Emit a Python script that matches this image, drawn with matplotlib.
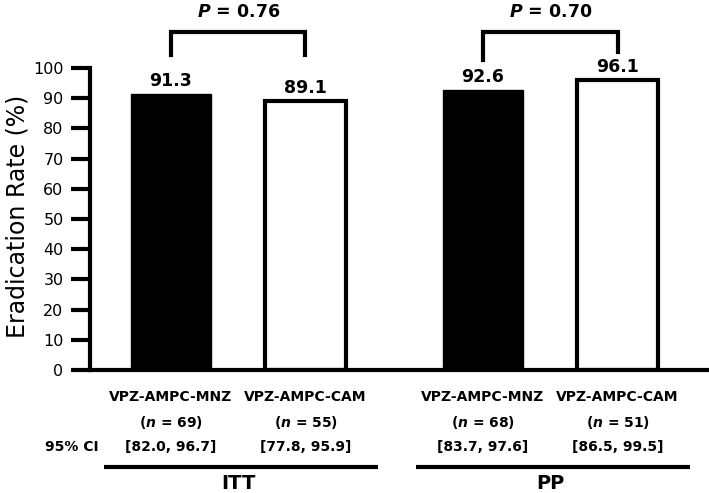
import matplotlib
matplotlib.use("Agg")
import matplotlib.pyplot as plt
import numpy as np

plt.rcParams['font.family'] = ['DejaVu Sans']
plt.rcParams['mathtext.fontset'] = 'custom'
plt.rcParams['mathtext.it'] = 'DejaVu Sans:italic:bold'
plt.rcParams['mathtext.rm'] = 'DejaVu Sans:bold'

# data
groups = ["ITT", "PP"]
regimens = ["VPZ-AMPC-MNZ", "VPZ-AMPC-CAM", "VPZ-AMPC-MNZ", "VPZ-AMPC-CAM"]
rates = [91.3, 89.1, 92.6, 96.1]
n_pat = [69, 55, 68, 51]
ci_lo = [82.0, 77.8, 83.7, 86.5]
ci_hi = [96.7, 95.9, 97.6, 99.5]
p_vals = ["0.76", "0.70"]

fills = ["black", "white", "black", "white"]

group_gap = 1.32
pos = np.array([0, 1, 1 + group_gap, 2 + group_gap])
bw = 0.6

fig = plt.figure(figsize=(7.09, 4.93), dpi=100)
ax = fig.add_axes([90/709, 1 - 370/493, 617/709, 302/493])

for x, r, c in zip(pos, rates, fills):
    lw = 1 if c == "black" else 3
    ax.bar(x, r, bw, color=c, edgecolor="black", linewidth=lw, zorder=2)
    ax.text(x, r + 1.3, "%.1f" % r, ha="center", va="bottom",
            fontsize=12.5, fontweight="bold")

ax.set_xlim(-0.602, 3.985)
ax.set_ylim(0, 100)
ax.set_yticks(np.arange(0, 101, 10))
ax.set_xticks([])
ax.tick_params(axis="y", direction="out", length=14, width=3, labelsize=11.5, pad=5)
for s in ["top", "right"]:
    ax.spines[s].set_visible(False)
ax.spines["left"].set_linewidth(3)
ax.spines["bottom"].set_linewidth(3)

fig.text(18/709, 1 - 216/493, "Eradication Rate (%)", rotation=90,
         ha="center", va="center", fontsize=17)

# significance brackets
bracket_bottoms = [(104.3, 104.3), (102.6, 105.3)]
for g in range(2):
    x1, x2 = pos[2*g], pos[2*g + 1]
    b1, b2 = bracket_bottoms[g]
    ax.plot([x1, x1, x2, x2], [b1, 111.9, 111.9, b2], color="black",
            lw=3, clip_on=False, solid_joinstyle="miter")
    ax.text((x1 + x2) / 2, 118.4, r"$\mathit{P}$ = " + p_vals[g], ha="center",
            va="center", fontsize=12.5, fontweight="bold")

# category text under axis
for i, x in enumerate(pos):
    ax.text(x, -8.9, regimens[i], ha="center", va="center", fontsize=10,
            fontweight="bold", clip_on=False)
    ax.text(x, -17.5, r"($\mathit{n}$ = %d)" % n_pat[i], ha="center",
            va="center", fontsize=10, fontweight="bold", clip_on=False)
    ax.text(x, -25.5, "[%.1f, %.1f]" % (ci_lo[i], ci_hi[i]), ha="center",
            va="center", fontsize=10, fontweight="bold", clip_on=False)
ax.text(-0.74, -25.5, "95% CI", ha="center", va="center", fontsize=10,
        fontweight="bold", clip_on=False)

for g in range(2):
    gc = (pos[2*g] + pos[2*g + 1]) / 2
    ax.plot([gc - 1.0, gc + 1.04], [-32.1, -32.1], color="black", lw=3,
            clip_on=False, solid_capstyle="butt")
    ax.text(gc, -37.6, groups[g], ha="center", va="center", fontsize=14,
            fontweight="bold", clip_on=False)

fig.savefig("out.png", dpi=100)
